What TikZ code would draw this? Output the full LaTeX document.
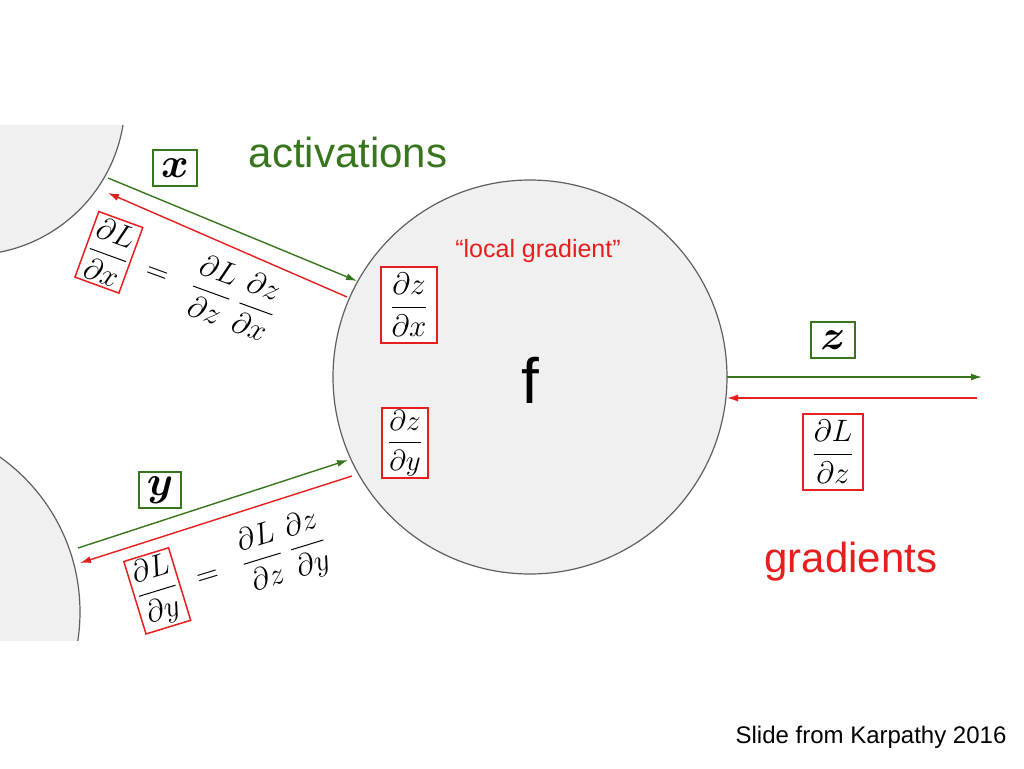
\documentclass[tikz,border=0pt]{standalone}
\usepackage{fix-cm}
\usetikzlibrary{arrows.meta}
\usepackage{amsmath}
\usepackage{fontspec}
\setmainfont{Liberation Sans}
\definecolor{gr}{RGB}{56,118,29}
\definecolor{rd}{RGB}{230,30,30}
\definecolor{cf}{RGB}{240,240,240}
\definecolor{cs}{RGB}{95,95,95}
\newcommand{\mymath}[2]{{\fontsize{#1}{#1}\selectfont$\displaystyle #2$}}
\begin{document}
\begin{tikzpicture}[x=1pt,y=-1pt,
  gbox/.style={draw=gr,line width=1.5pt,inner sep=3pt,fill=white},
  rbox/.style={draw=rd,line width=1.5pt,inner sep=3pt,fill=white},
  garrow/.style={draw=gr,line width=1.4pt,-{Latex[length=11pt,width=7pt]}},
  rarrow/.style={draw=rd,line width=1.4pt,-{Latex[length=11pt,width=7pt]}},
  circ/.style={draw=cs,line width=1.2pt,fill=cf}]
\useasboundingbox[fill=white] (0,0) rectangle (1024,768);
\begin{scope}
\clip (0,125) rectangle (1024,640);
\draw[circ] (-30,100) circle[radius=155];
\draw[circ] (-110,612) circle[radius=190];
\end{scope}
\node[circle,circ,minimum size=394pt,inner sep=0pt] (f) at (530,377) {};
\node[font=\fontsize{64}{64}\selectfont] (fl) at (530,380) {f};
\node[text=rd,font=\fontsize{25}{25}\selectfont] (lg) at (538,251) {“local gradient”};
\node[text=gr,font=\fontsize{42}{42}\selectfont] (act) at (348,152) {activations};
\node[text=rd,font=\fontsize{42}{42}\selectfont] (grad) at (851,562) {gradients};
\node[font=\fontsize{24}{24}\selectfont] (src) at (871,737) {Slide from Karpathy 2016};
% coordinates
\coordinate (a1) at (108,178); \coordinate (a2) at (357,281);
\coordinate (b1) at (347,297); \coordinate (b2) at (108,193);
\coordinate (c1) at (78,548); \coordinate (c2) at (348,460);
\coordinate (d1) at (352,476); \coordinate (d2) at (80,563);
\coordinate (e1) at (727,377); \coordinate (e2) at (982,377);
\coordinate (g1) at (977,398); \coordinate (g2) at (727,398);
\draw[garrow] (a1) -- (a2);
\draw[rarrow] (b1) -- (b2);
\draw[garrow] (c1) -- (c2);
\draw[rarrow] (d1) -- (d2);
\draw[garrow] (e1) -- (e2);
\draw[rarrow] (g1) -- (g2);
% boxes
\node[gbox,minimum width=44pt,minimum height=36pt,inner sep=1pt] (x) at (175,168) {\mymath{42}{\boldsymbol{x}}};
\node[gbox,minimum width=42pt,minimum height=36pt,inner sep=1pt] (y) at (160,490) {\mymath{42}{\boldsymbol{y}}};
\node[gbox,minimum width=44pt,minimum height=36pt,inner sep=1pt] (z) at (833,340) {\mymath{42}{\boldsymbol{z}}};
\node[rbox,minimum width=56pt,minimum height=76pt,inner sep=1pt] (dzdx) at (409,305) {\mymath{31}{\frac{\partial z}{\partial x}}};
\node[rbox,minimum width=46pt,minimum height=70pt,inner sep=1pt] (dzdy) at (405,443) {\mymath{29}{\frac{\partial z}{\partial y}}};
\node[rbox,minimum width=60pt,minimum height=76pt,inner sep=1pt] (dLdz) at (833,452) {\mymath{31}{\frac{\partial L}{\partial z}}};
% rotated chain rules
\node[rotate=-20,anchor=west,inner sep=0pt] (eqx) at (86,244)
  {\tikz[baseline=(bx.base)]\node[rbox,inner sep=3pt] (bx) {\mymath{31}{\frac{\partial L}{\partial x}}};\mymath{31}{\;\;=\;\;\frac{\partial L}{\partial z}\;\frac{\partial z}{\partial x}}};
\node[rotate=17,anchor=west,inner sep=0pt] (eqy) at (134,598)
  {\tikz[baseline=(by.base)]\node[rbox,inner sep=3pt] (by) {\mymath{31}{\frac{\partial L}{\partial y}}};\mymath{31}{\;\;=\;\;\frac{\partial L}{\partial z}\;\frac{\partial z}{\partial y}}};
\end{tikzpicture}
\end{document}
